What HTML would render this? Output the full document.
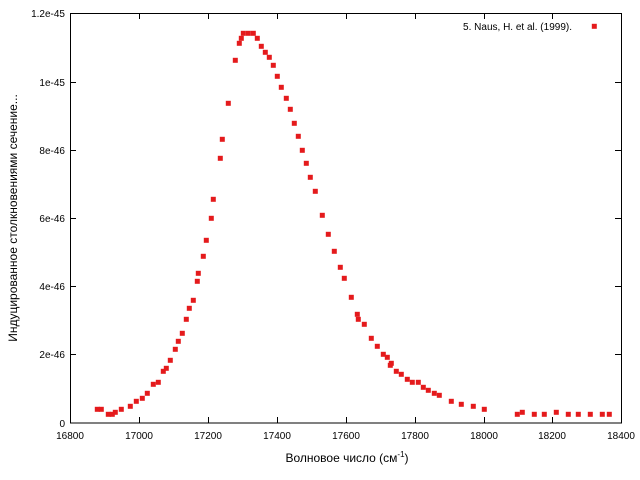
<!DOCTYPE html>
<html><head><meta charset="utf-8"><style>
body{margin:0;background:#fff}
svg{display:block;font-family:"Liberation Sans","DejaVu Sans",sans-serif}
</style></head><body>
<svg width="640" height="480" viewBox="0 0 640 480" xmlns="http://www.w3.org/2000/svg">
<rect width="640" height="480" fill="#fff"/>
<g stroke="#000" stroke-width="1" fill="none">
<rect x="70.5" y="13.5" width="551" height="409.5"/>
<path d="M70 354.5h6M70 286.5h6M70 218.5h6M70 150.5h6M70 82.5h6M621 354.5h-6M621 286.5h-6M621 218.5h-6M621 150.5h-6M621 82.5h-6"/>
<path d="M139.5 423v-6M208.5 423v-6M277.5 423v-6M346.5 423v-6M415.5 423v-6M484.5 423v-6M552.5 423v-6M139.5 13v6M208.5 13v6M277.5 13v6M346.5 13v6M415.5 13v6M484.5 13v6M552.5 13v6"/>
</g>
<g font-size="10" fill="#000" text-anchor="end">
<text x="65" y="427">0</text>
<text x="65" y="358">2e-46</text>
<text x="65" y="290">4e-46</text>
<text x="65" y="222">6e-46</text>
<text x="65" y="154">8e-46</text>
<text x="65" y="86">1e-45</text>
<text x="65" y="17">1.2e-45</text>
</g>
<g font-size="10" fill="#000" text-anchor="middle">
<text x="70" y="439">16800</text>
<text x="139" y="439">17000</text>
<text x="208" y="439">17200</text>
<text x="277" y="439">17400</text>
<text x="346" y="439">17600</text>
<text x="415" y="439">17800</text>
<text x="484" y="439">18000</text>
<text x="552" y="439">18200</text>
<text x="621" y="439">18400</text>
</g>
<text x="347" y="462" font-size="12" text-anchor="middle">Волновое число (см<tspan font-size="8" dy="-5">-1</tspan><tspan dy="5">)</tspan></text>
<text transform="translate(17,218) rotate(-90)" font-size="12" text-anchor="middle">Индуцированное столкновениями сечение...</text>
<text x="572" y="30" font-size="10" text-anchor="end">5. Naus, H. et al. (1999).</text>
<g fill="#e41a1c">
<rect x="591.8" y="23.8" width="5" height="5"/>
<rect x="94.8" y="406.8" width="5" height="5"/>
<rect x="98.8" y="406.8" width="5" height="5"/>
<rect x="105.8" y="411.8" width="5" height="5"/>
<rect x="109.8" y="411.8" width="5" height="5"/>
<rect x="112.8" y="409.8" width="5" height="5"/>
<rect x="118.8" y="406.8" width="5" height="5"/>
<rect x="127.8" y="403.8" width="5" height="5"/>
<rect x="133.8" y="398.8" width="5" height="5"/>
<rect x="139.8" y="395.8" width="5" height="5"/>
<rect x="144.8" y="390.8" width="5" height="5"/>
<rect x="150.8" y="381.8" width="5" height="5"/>
<rect x="155.8" y="379.8" width="5" height="5"/>
<rect x="160.8" y="368.8" width="5" height="5"/>
<rect x="163.8" y="365.8" width="5" height="5"/>
<rect x="167.8" y="357.8" width="5" height="5"/>
<rect x="172.8" y="346.8" width="5" height="5"/>
<rect x="175.8" y="338.8" width="5" height="5"/>
<rect x="179.8" y="330.8" width="5" height="5"/>
<rect x="183.8" y="316.8" width="5" height="5"/>
<rect x="186.8" y="305.8" width="5" height="5"/>
<rect x="190.8" y="297.8" width="5" height="5"/>
<rect x="194.8" y="278.8" width="5" height="5"/>
<rect x="195.8" y="270.8" width="5" height="5"/>
<rect x="200.8" y="253.8" width="5" height="5"/>
<rect x="203.8" y="237.8" width="5" height="5"/>
<rect x="208.8" y="215.8" width="5" height="5"/>
<rect x="210.8" y="196.8" width="5" height="5"/>
<rect x="217.8" y="155.8" width="5" height="5"/>
<rect x="219.8" y="136.8" width="5" height="5"/>
<rect x="225.8" y="100.8" width="5" height="5"/>
<rect x="232.8" y="57.8" width="5" height="5"/>
<rect x="236.8" y="40.8" width="5" height="5"/>
<rect x="238.8" y="35.8" width="5" height="5"/>
<rect x="240.8" y="30.8" width="5" height="5"/>
<rect x="245.8" y="30.8" width="5" height="5"/>
<rect x="250.8" y="30.8" width="5" height="5"/>
<rect x="254.8" y="35.8" width="5" height="5"/>
<rect x="258.8" y="43.8" width="5" height="5"/>
<rect x="262.8" y="49.8" width="5" height="5"/>
<rect x="266.8" y="54.8" width="5" height="5"/>
<rect x="270.8" y="62.8" width="5" height="5"/>
<rect x="274.8" y="73.8" width="5" height="5"/>
<rect x="278.8" y="84.8" width="5" height="5"/>
<rect x="283.8" y="95.8" width="5" height="5"/>
<rect x="287.8" y="106.8" width="5" height="5"/>
<rect x="291.8" y="120.8" width="5" height="5"/>
<rect x="295.8" y="133.8" width="5" height="5"/>
<rect x="299.8" y="147.8" width="5" height="5"/>
<rect x="303.8" y="160.8" width="5" height="5"/>
<rect x="307.8" y="174.8" width="5" height="5"/>
<rect x="312.8" y="188.8" width="5" height="5"/>
<rect x="319.8" y="212.8" width="5" height="5"/>
<rect x="325.8" y="231.8" width="5" height="5"/>
<rect x="331.8" y="248.8" width="5" height="5"/>
<rect x="337.8" y="264.8" width="5" height="5"/>
<rect x="341.8" y="275.8" width="5" height="5"/>
<rect x="348.8" y="294.8" width="5" height="5"/>
<rect x="354.8" y="311.8" width="5" height="5"/>
<rect x="355.8" y="316.8" width="5" height="5"/>
<rect x="361.8" y="321.8" width="5" height="5"/>
<rect x="368.8" y="335.8" width="5" height="5"/>
<rect x="374.8" y="343.8" width="5" height="5"/>
<rect x="380.8" y="351.8" width="5" height="5"/>
<rect x="384.8" y="354.8" width="5" height="5"/>
<rect x="387.8" y="362.8" width="5" height="5"/>
<rect x="388.8" y="360.8" width="5" height="5"/>
<rect x="393.8" y="368.8" width="5" height="5"/>
<rect x="398.8" y="371.8" width="5" height="5"/>
<rect x="404.8" y="376.8" width="5" height="5"/>
<rect x="409.8" y="379.8" width="5" height="5"/>
<rect x="415.8" y="379.8" width="5" height="5"/>
<rect x="420.8" y="384.8" width="5" height="5"/>
<rect x="425.8" y="387.8" width="5" height="5"/>
<rect x="431.8" y="390.8" width="5" height="5"/>
<rect x="436.8" y="392.8" width="5" height="5"/>
<rect x="448.8" y="398.8" width="5" height="5"/>
<rect x="458.8" y="401.8" width="5" height="5"/>
<rect x="470.8" y="403.8" width="5" height="5"/>
<rect x="481.8" y="406.8" width="5" height="5"/>
<rect x="514.8" y="411.8" width="5" height="5"/>
<rect x="519.8" y="409.8" width="5" height="5"/>
<rect x="531.8" y="411.8" width="5" height="5"/>
<rect x="541.8" y="411.8" width="5" height="5"/>
<rect x="553.8" y="409.8" width="5" height="5"/>
<rect x="565.8" y="411.8" width="5" height="5"/>
<rect x="575.8" y="411.8" width="5" height="5"/>
<rect x="587.8" y="411.8" width="5" height="5"/>
<rect x="599.8" y="411.8" width="5" height="5"/>
<rect x="606.8" y="411.8" width="5" height="5"/>
</g>
</svg>
</body></html>
